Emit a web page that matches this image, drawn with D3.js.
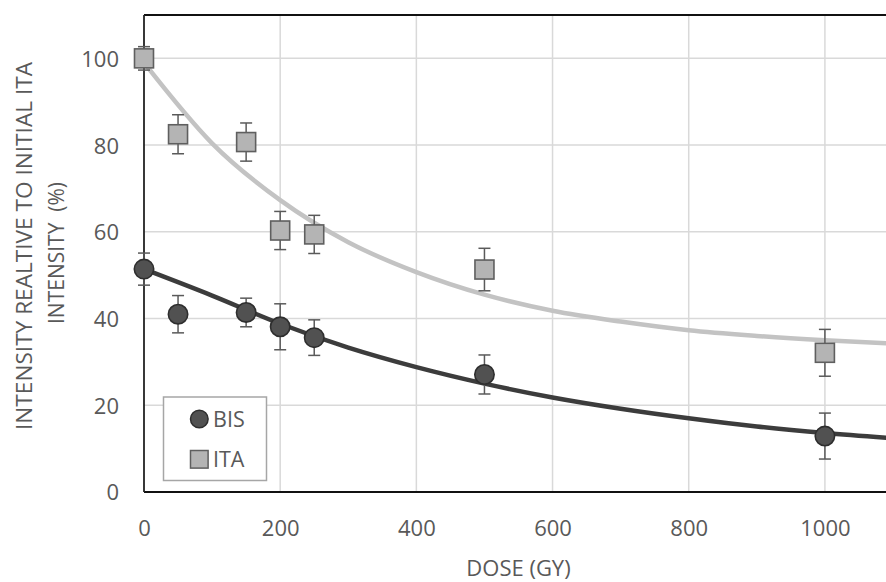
<!DOCTYPE html>
<html>
<head>
<meta charset="utf-8">
<script src="https://cdn.jsdelivr.net/npm/d3@7"></script>
<style>
  html, body { margin: 0; padding: 0; background: #fff; }
  svg { display: block; font-family: "Open Sans", sans-serif; }
</style>
</head>
<body>
<div id="chart"></div>
<script>
// ---- data ----
const doses = [0, 50, 150, 200, 250, 500, 1000];
const bisMean = [51.4, 41.0, 41.4, 38.1, 35.6, 27.1, 12.9];
const bisErr  = [3.7, 4.3, 3.3, 5.3, 4.1, 4.5, 5.3];
const itaMean = [100.0, 82.5, 80.7, 60.3, 59.4, 51.3, 32.1];
const itaErr  = [2.7, 4.5, 4.4, 4.4, 4.4, 4.9, 5.4];
// fitted trend lines
const fitDoses = [0, 100, 200, 300, 400, 500, 600, 700, 800, 900, 1000, 1100];
const bisFit = [51.4, 45.3, 38.8, 33.3, 28.8, 25.0, 21.8, 19.2, 17.0, 15.1, 13.6, 12.4];
const itaFit = [99.0, 80.4, 67.3, 57.6, 50.7, 45.5, 41.8, 39.3, 37.3, 36.0, 35.0, 34.2];
const xTicks = [0, 200, 400, 600, 800, 1000];
const yTicks = [0, 20, 40, 60, 80, 100];
const seriesNames = ["BIS", "ITA"];
const xTitle = "DOSE (GY)";
const yTitle1 = "INTENSITY REALTIVE TO INITIAL ITA";
const yTitle2 = "INTENSITY  (%)";

// ---- layout ----
const W = 886, H = 582;
const L = 144, T = 15, B = 492, R = 893;
const textCol = "#595959";

const svg = d3.select("#chart").append("svg").attr("width", W).attr("height", H);

const x = d3.scaleLinear().domain([0, 1100]).range([L, R]);
const y = d3.scaleLinear().domain([0, 110]).range([B, T]);

svg.append("defs").append("clipPath").attr("id", "clip")
  .append("rect").attr("x", L).attr("y", T - 15).attr("width", R - L).attr("height", B - T + 30);

// gridlines
const grid = svg.append("g");
grid.selectAll("line.v").data(xTicks.filter(d => d > 0)).join("line")
  .attr("x1", d => x(d)).attr("x2", d => x(d)).attr("y1", T).attr("y2", B)
  .attr("stroke", "#d9d9d9").attr("stroke-width", 1.5);
grid.selectAll("line.h").data(yTicks.filter(d => d > 0)).join("line")
  .attr("x1", L).attr("x2", R).attr("y1", d => y(d)).attr("y2", d => y(d))
  .attr("stroke", "#d9d9d9").attr("stroke-width", 1.5);

// trend lines
const plot = svg.append("g").attr("clip-path", "url(#clip)");
const line = d3.line().x(d => x(d[0])).y(d => y(d[1])).curve(d3.curveMonotoneX);
plot.append("path").datum(fitDoses.map((d, i) => [d, itaFit[i]]))
  .attr("d", line).attr("fill", "none").attr("stroke", "#c3c3c3").attr("stroke-width", 4.5);
plot.append("path").datum(fitDoses.map((d, i) => [d, bisFit[i]]))
  .attr("d", line).attr("fill", "none").attr("stroke", "#3c3c3c").attr("stroke-width", 4.5);

// axes / frame
const xAxis = d3.axisBottom(x).tickValues(xTicks).tickFormat(d3.format("d")).tickSize(0).tickPadding(0);
const yAxis = d3.axisLeft(y).tickValues(yTicks).tickFormat(d3.format("d")).tickSize(0).tickPadding(0);
const gx = svg.append("g").attr("transform", `translate(0,${B})`).call(xAxis);
gx.select(".domain").remove();
gx.selectAll("text").attr("y", 44).attr("dy", null).attr("fill", textCol)
  .style("font-size", "22px").style("font-family", "'Open Sans', sans-serif");
const gy = svg.append("g").attr("transform", `translate(${L},0)`).call(yAxis);
gy.select(".domain").remove();
gy.selectAll("text").attr("x", -25).attr("dy", "0.36em").attr("fill", textCol)
  .style("font-size", "22px").style("font-family", "'Open Sans', sans-serif");

svg.append("line").attr("x1", L).attr("x2", W).attr("y1", T).attr("y2", T)
  .attr("stroke", "#111").attr("stroke-width", 2);
svg.append("line").attr("x1", L).attr("x2", W).attr("y1", B).attr("y2", B)
  .attr("stroke", "#111").attr("stroke-width", 2);
svg.append("line").attr("x1", L).attr("x2", L).attr("y1", T).attr("y2", B)
  .attr("stroke", "#222").attr("stroke-width", 1.8);

// error bars
function errBars(means, errs) {
  const g = svg.append("g").attr("stroke", "#5a5a5a").attr("stroke-width", 1.5);
  doses.forEach((d, i) => {
    const cx = x(d), y1 = y(means[i] + errs[i]), y2 = y(means[i] - errs[i]);
    g.append("line").attr("x1", cx).attr("x2", cx).attr("y1", y1).attr("y2", y2);
    g.append("line").attr("x1", cx - 6).attr("x2", cx + 6).attr("y1", y1).attr("y2", y1);
    g.append("line").attr("x1", cx - 6).attr("x2", cx + 6).attr("y1", y2).attr("y2", y2);
  });
}
errBars(itaMean, itaErr);
errBars(bisMean, bisErr);

// markers
const sq = 19;
svg.append("g").selectAll("rect").data(doses).join("rect")
  .attr("x", (d) => x(d) - sq / 2).attr("y", (d, i) => y(itaMean[i]) - sq / 2)
  .attr("width", sq).attr("height", sq)
  .attr("fill", "#b4b4b4").attr("stroke", "#5f5f5f").attr("stroke-width", 1.6);
svg.append("g").selectAll("circle").data(doses).join("circle")
  .attr("cx", d => x(d)).attr("cy", (d, i) => y(bisMean[i])).attr("r", 9.7)
  .attr("fill", "#515151").attr("stroke", "#2e2e2e").attr("stroke-width", 1.6);

// legend
const lg = svg.append("g");
lg.append("rect").attr("x", 163.5).attr("y", 397).attr("width", 103).attr("height", 83.5)
  .attr("fill", "#fff").attr("stroke", "#a6a6a6").attr("stroke-width", 1.5);
lg.append("circle").attr("cx", 199.3).attr("cy", 419).attr("r", 8.8)
  .attr("fill", "#515151").attr("stroke", "#2e2e2e").attr("stroke-width", 1.5);
lg.append("rect").attr("x", 199.3 - 8.8).attr("y", 459.3 - 8.8).attr("width", 17.6).attr("height", 17.6)
  .attr("fill", "#b4b4b4").attr("stroke", "#5f5f5f").attr("stroke-width", 1.5);
lg.selectAll("text").data(seriesNames).join("text")
  .attr("x", 213).attr("y", (d, i) => i === 0 ? 426.5 : 467.3)
  .attr("fill", textCol).style("font-size", "21.5px").text(d => d);

// axis titles
svg.append("text").attr("x", (L + R) / 2).attr("y", 576).attr("text-anchor", "middle")
  .attr("fill", textCol).style("font-size", "22px").text(xTitle);
svg.append("text").attr("transform", "translate(32,246) rotate(-90)").attr("text-anchor", "middle")
  .attr("fill", textCol).style("font-size", "21px")
  .attr("textLength", 368).attr("lengthAdjust", "spacingAndGlyphs").text(yTitle1);
svg.append("text").attr("transform", "translate(64,253) rotate(-90)").attr("text-anchor", "middle")
  .attr("fill", textCol).style("font-size", "21px").style("white-space", "pre")
  .attr("xml:space", "preserve").text(yTitle2);
</script>
</body>
</html>
